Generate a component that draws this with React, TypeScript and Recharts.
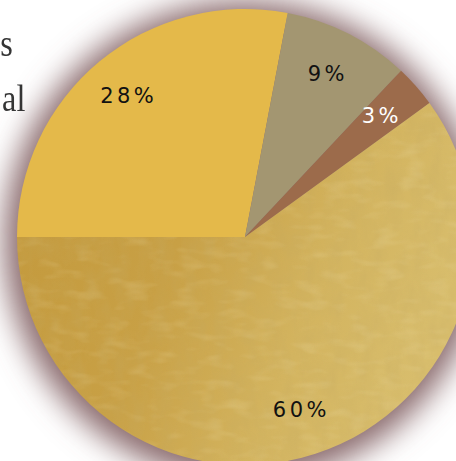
import { PieChart, Pie, Cell } from "recharts";

const shares = ["28%", "9%", "3%", "60%"];
const values = [28, 9, 3, 60];
const sliceColors = ["#e4b94a", "#a39671", "#9c6b4b", "url(#goldTex)"];
const labelColors = ["#111111", "#111111", "#ffffff", "#111111"];
const sideWords = ["s", "al"];
const sideRight = [13, 25];

const data = values.map((v, i) => ({ name: shares[i], value: v }));
const halo = [{ name: "halo", value: 1 }];

const RAD = Math.PI / 180;

function renderLabel(props: any) {
    const { cx, cy, midAngle, outerRadius, index } = props;
    const r = outerRadius * 0.8;
    const x = cx + r * Math.cos(-midAngle * RAD);
    const y = cy + r * Math.sin(-midAngle * RAD);
    return (
        <text
            x={x}
            y={y}
            fill={labelColors[index]}
            textAnchor="middle"
            dominantBaseline="central"
            fontFamily="DejaVu Sans, sans-serif"
            fontSize={21}
            letterSpacing={3.5}
        >
            {shares[index]}
        </text>
    );
}

export default function App() {
    return (
        <div style={{ position: "fixed", left: 0, top: 0, width: 456, height: 461, background: "#fff", overflow: "hidden" }}>
            <PieChart width={456} height={461} margin={{ top: 0, right: 0, bottom: 0, left: 0 }}>
                <defs>
                    <filter id="haloBlur" x="-30%" y="-30%" width="160%" height="160%">
                        <feGaussianBlur stdDeviation="15" />
                    </filter>
                    <linearGradient id="goldGrad" x1="0" y1="0.2" x2="1" y2="0.6">
                        <stop offset="0%" stopColor="#c2983b" />
                        <stop offset="45%" stopColor="#c8a045" />
                        <stop offset="75%" stopColor="#d3b45f" />
                        <stop offset="100%" stopColor="#d8bd6c" />
                    </linearGradient>
                    <filter id="grain" x="0" y="0" width="100%" height="100%">
                        <feTurbulence type="fractalNoise" baseFrequency="0.07 0.035" numOctaves="3" seed="4" />
                        <feColorMatrix
                            type="matrix"
                            values="0 0 0 0 0.55  0 0 0 0 0.4  0 0 0 0 0.12  0 0 0 -1.6 1.05"
                        />
                    </filter>
                    <filter id="sheen" x="0" y="0" width="100%" height="100%">
                        <feTurbulence type="fractalNoise" baseFrequency="0.04 0.1" numOctaves="2" seed="9" />
                        <feColorMatrix
                            type="matrix"
                            values="0 0 0 0 0.93  0 0 0 0 0.85  0 0 0 0 0.55  0 0 0 -2.2 1.1"
                        />
                    </filter>
                    <pattern id="goldTex" patternUnits="userSpaceOnUse" x="0" y="0" width="456" height="461">
                        <rect width="456" height="461" fill="url(#goldGrad)" />
                        <rect width="456" height="461" filter="url(#grain)" opacity="0.3" />
                        <rect width="456" height="461" filter="url(#sheen)" opacity="0.18" />
                    </pattern>
                </defs>
                <Pie
                    data={halo}
                    dataKey="value"
                    cx={244}
                    cy={241}
                    outerRadius={240}
                    startAngle={0}
                    endAngle={360}
                    stroke="none"
                    isAnimationActive={false}
                >
                    <Cell fill="#8a6a6d" filter="url(#haloBlur)" />
                </Pie>
                <Pie
                    data={data}
                    dataKey="value"
                    cx={245}
                    cy={237}
                    outerRadius={228}
                    startAngle={180}
                    endAngle={-180}
                    stroke="none"
                    label={renderLabel}
                    labelLine={false}
                    isAnimationActive={false}
                >
                    {data.map((d, i) => (
                        <Cell key={d.name} fill={sliceColors[i]} />
                    ))}
                </Pie>
            </PieChart>
            {sideWords.map((w, i) => (
                <div
                    key={w}
                    style={{
                        position: "absolute",
                        right: 456 - sideRight[i],
                        top: 19 + i * 55,
                        fontFamily: "Liberation Serif, serif",
                        fontSize: 38,
                        lineHeight: "48px",
                        color: "#353535",
                        textAlign: "right",
                        whiteSpace: "nowrap",
                        transform: "scaleX(0.85)",
                        transformOrigin: "right center",
                    }}
                >
                    {w}
                </div>
            ))}
        </div>
    );
}
